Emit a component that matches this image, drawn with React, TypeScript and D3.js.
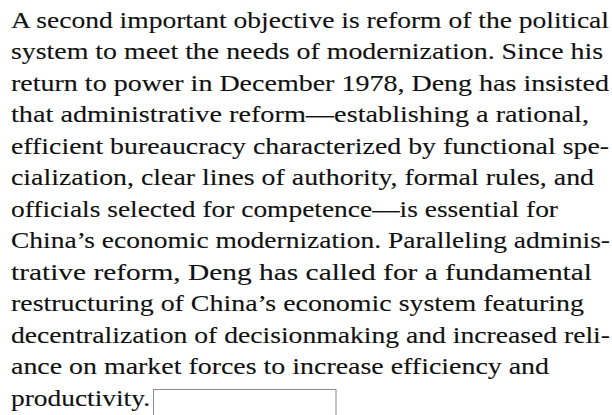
import * as d3 from 'd3';
import React, { useRef, useEffect } from 'react';

// lines of the paragraph, as set in the original
const lines = [
    'A second important objective is reform of the political',
    'system to meet the needs of modernization. Since his',
    'return to power in December 1978, Deng has insisted',
    'that administrative reform\u2014establishing a rational,',
    'efficient bureaucracy characterized by functional spe-',
    'cialization, clear lines of authority, formal rules, and',
    'officials selected for competence\u2014is essential for',
    'China\u2019s economic modernization. Paralleling adminis-',
    'trative reform, Deng has called for a fundamental',
    'restructuring of China\u2019s economic system featuring',
    'decentralization of decisionmaking and increased reli-',
    'ance on market forces to increase efficiency and',
    'productivity.',
];

// right end of each line
const lineEnds = [609, 603, 609, 589, 609, 594, 558, 610, 592, 584, 610, 549, 150];

const W = 612;
const H = 415;

const App = () => {
    const svgRef = useRef<SVGSVGElement>(null);

    useEffect(() => {
        draw();
    }, []);

    const draw = () => {
        const svg = d3.select(svgRef.current);
        svg.selectAll('*').remove();

        const left = 11;
        const yScale = d3.scaleLinear().domain([0, lines.length - 1]).range([27.5, 405.5]);

        // the old typeface is wider than Times, so glyphs are stretched to the measured width
        svg
            .selectAll('.line')
            .data(lines)
            .enter()
            .append('text')
            .attr('class', 'line')
            .attr('x', left)
            .attr('y', (d, i) => yScale(i))
            .attr('fill', '#111')
            .attr('stroke', '#111')
            .attr('stroke-width', 0.12)
            .attr('textLength', (d, i) => lineEnds[i] - left)
            .attr('lengthAdjust', 'spacingAndGlyphs')
            .attr('font-family', 'Times New Roman, Liberation Serif, serif')
            .attr('font-size', 23)
            .text((d) => d);

        // empty box after the last word
        const boxX = 153.5;
        svg
            .append('rect')
            .attr('x', boxX)
            .attr('y', 389.5)
            .attr('width', 336 - boxX)
            .attr('height', 40)
            .attr('fill', 'none')
            .attr('stroke', '#8a8a8a')
            .attr('stroke-width', 1);
    };

    return (
        <svg
            ref={svgRef}
            width={W}
            height={H}
            style={{ position: 'absolute', left: 0, top: 0, background: '#fff' }}
        ></svg>
    );
};

export default App;
